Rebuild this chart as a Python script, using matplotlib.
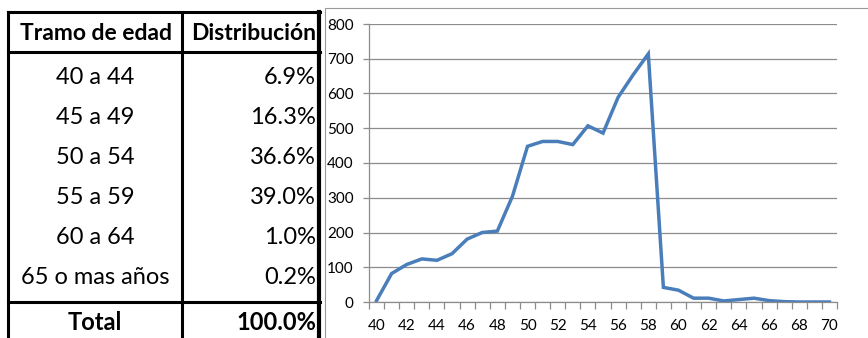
import matplotlib.pyplot as plt
from matplotlib.patches import Rectangle

# Table data
tramos = ["40 a 44", "45 a 49", "50 a 54", "55 a 59", "60 a 64", "65 o mas años"]
distribucion = ["6.9%", "16.3%", "36.6%", "39.0%", "1.0%", "0.2%"]
total_label = "Total"
total_value = "100.0%"

# Line chart data (age vs count)
edades = list(range(40, 71))
cantidad = [4, 82, 108, 124, 120, 139, 181, 200, 204, 304,
            448, 462, 462, 453, 507, 486, 589, 654, 714, 42,
            34, 11, 11, 3, 7, 11, 4, 1, 0, 0, 0]

plt.rcParams["font.family"] = ["Lato", "DejaVu Sans"]

W, H = 868, 338
fig = plt.figure(figsize=(W / 100, H / 100), dpi=100)

# ---- table on the left (pixel coords) ----
tx0, ty0, tx1 = 8, 12, 320
tab = fig.add_axes([tx0 / W, 0, (tx1 - tx0) / W, (H - ty0) / H])
tab.set_xlim(0, tx1 - tx0)
tab.set_ylim(H - ty0, 0)
tab.axis("off")

tw = tx1 - tx0
col = 174
lw = 2.2
tab.plot([0, tw], [0, 0], color="black", lw=lw, clip_on=False)
tab.plot([0, tw], [40, 40], color="black", lw=lw, clip_on=False)
tab.plot([0, tw], [290, 290], color="black", lw=lw, clip_on=False)
tab.plot([0, 0], [0, H], color="black", lw=lw, clip_on=False)
tab.plot([col, col], [0, H], color="black", lw=lw, clip_on=False)
tab.plot([tw - 1, tw - 1], [0, H], color="black", lw=3, clip_on=False)

fs = 17
tab.text(col / 2 + 1, 21, "Tramo de edad", ha="center", va="center", fontsize=16.5, fontweight="bold")
tab.text(tw - 4, 21, "Distribución", ha="right", va="center", fontsize=16.5, fontweight="bold")
for i, (t, d) in enumerate(zip(tramos, distribucion)):
    y = 66 + i * 39.8
    tab.text(col / 2, y, t, ha="center", va="center", fontsize=fs)
    tab.text(tw - 4, y, d, ha="right", va="center", fontsize=fs)
tab.text(col / 2, 311, total_label, ha="center", va="center", fontsize=fs, fontweight="bold")
tab.text(tw - 4, 311, total_value, ha="right", va="center", fontsize=fs, fontweight="bold")

# chart frame
fig.patches.append(Rectangle((325 / W, -0.1), 1, (H - 8) / H + 0.1, transform=fig.transFigure,
                             fill=False, edgecolor="#9a9a9a", lw=0.8))

# ---- line chart ----
ax = fig.add_axes([369 / W, 1 - 302 / H, 468 / W, 278 / H])
x = list(range(len(edades)))
ax.plot(x, cantidad, color="#4a7ebb", lw=2.5, solid_joinstyle="miter")
ax.set_xlim(-0.5, len(edades) - 0.5)
ax.set_ylim(0, 800)
ax.set_yticks(range(0, 801, 100))
ax.yaxis.grid(True, color="#8c8c8c", lw=0.9)
ax.set_axisbelow(True)

ax.set_xticks(x[::2])
ax.set_xticklabels([str(e) for e in edades[::2]])
ax.set_xticks([i - 0.5 for i in range(len(edades) + 1)], minor=True)
ax.tick_params(axis="x", which="major", length=0, pad=12, labelsize=11)
ax.tick_params(axis="x", which="minor", length=5, color="#8c8c8c", width=0.9)
ax.tick_params(axis="y", length=4, color="#8c8c8c", width=0.9, pad=7, labelsize=11)

for s in ["top", "right"]:
    ax.spines[s].set_visible(False)
ax.spines["left"].set_color("#8c8c8c")
ax.spines["bottom"].set_color("#8c8c8c")
ax.spines["left"].set_linewidth(0.9)
ax.spines["bottom"].set_linewidth(0.9)

fig.savefig("out.png", dpi=100)
